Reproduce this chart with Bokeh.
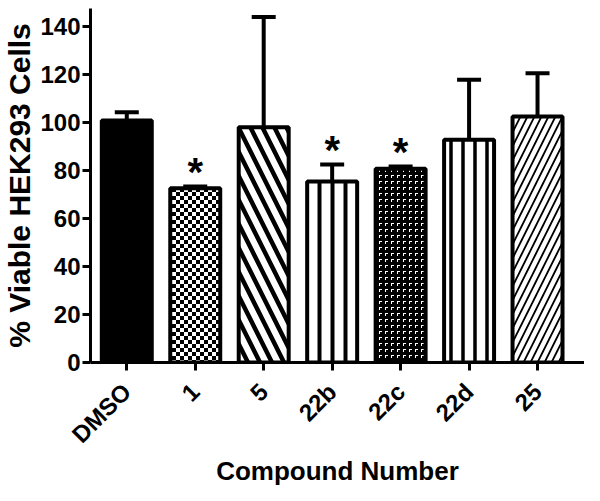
import base64
import struct
import zlib

from bokeh.core.properties import value
from bokeh.embed import file_html
from bokeh.models import (ColumnDataSource, FixedTicker, ImageURLTexture,
                          Range1d, TeeHead, Whisker)
from bokeh.plotting import figure
from bokeh.resources import INLINE

# ---- data ----
categories = ["DMSO", "1", "5", "22b", "22c", "22d", "25"]
means = [100.8, 72.6, 98.0, 75.4, 80.7, 92.8, 102.5]
errors = [3.5, 0.7, 46.0, 7.1, 1.0, 25.0, 18.0]
significant = ["", "*", "", "*", "*", "", ""]
y_ticks = [0, 20, 40, 60, 80, 100, 120, 140]

# ---- styles ----
fill_colors = ["black", "white", "white", "white", "black", "white", "white"]
hatch_patterns = ["blank", "checker", "left_diagonal_line", "vertical_line",
                  "gamma", "vertical_line", "right_diagonal_line"]
hatch_scales = [12, 12, 24, 13, 12, 12, 14]
hatch_weights = [1, 1, 4.5, 4, 1, 3.5, 1.8]


def png_data_url(rows):
    h = len(rows)
    w = len(rows[0])
    raw = b"".join(b"\x00" + bytes(v for px in row for v in px) for row in rows)

    def chunk(tag, data):
        return (struct.pack(">I", len(data)) + tag + data +
                struct.pack(">I", zlib.crc32(tag + data) & 0xFFFFFFFF))

    png = (b"\x89PNG\r\n\x1a\n" +
           chunk(b"IHDR", struct.pack(">IIBBBBB", w, h, 8, 2, 0, 0, 0)) +
           chunk(b"IDAT", zlib.compress(raw)) +
           chunk(b"IEND", b""))
    return "data:image/png;base64," + base64.b64encode(png).decode()


B = (0, 0, 0)
W = (255, 255, 255)
checker_rows = [[B if ((x // 4) + (y // 4)) % 2 == 0 else W for x in range(8)]
                for y in range(8)]
gamma_rows = []
for y in range(6):
    row = []
    for x in range(6):
        white = (y == 1 and 1 <= x <= 3) or (x == 1 and 1 <= y <= 3)
        row.append(W if white else B)
    gamma_rows.append(row)

textures = {
    "checker": ImageURLTexture(url=png_data_url(checker_rows), repetition="repeat"),
    "gamma": ImageURLTexture(url=png_data_url(gamma_rows), repetition="repeat"),
}

xs = list(range(len(categories)))
upper = [m + e for m, e in zip(means, errors)]
star_pad = 6.0
star_y = [u + star_pad for u in upper]

source = ColumnDataSource(dict(
    x=xs, cat=categories, mean=means, err=errors, upper=upper,
    fill=fill_colors, hatch=hatch_patterns, hscale=hatch_scales,
    hweight=hatch_weights, star=significant, star_y=star_y,
))

FONT = "Liberation Sans"

p = figure(width=584, height=493, output_backend="svg", toolbar_location=None,
           x_range=Range1d(-0.53, 6.686), y_range=Range1d(0, 147.5),
           min_border_left=79, min_border_right=0, min_border_top=8,
           min_border_bottom=131)
p.outline_line_color = None
p.xgrid.grid_line_color = None
p.ygrid.grid_line_color = None
p.background_fill_color = "white"
p.border_fill_color = "white"

p.vbar(x="x", top="mean", bottom=0, width=0.73, source=source,
       fill_color="fill", line_color="black", line_width=4,
       hatch_pattern="hatch", hatch_scale="hscale", hatch_weight="hweight",
       hatch_color="black", hatch_extra=textures)

whisk = Whisker(source=source, base="x", upper="upper", lower="mean",
                dimension="height", line_color="black", line_width=4,
                lower_head=None,
                upper_head=TeeHead(size=24, line_width=4, line_color="black"))
p.add_layout(whisk)

p.text(x="x", y="star_y", text="star", source=source,
       text_font=value(FONT), text_font_style="bold", text_font_size="40px",
       text_align="center", text_baseline="middle", text_color="black")

# axes
p.xaxis.ticker = FixedTicker(ticks=xs)
p.xaxis.major_label_overrides = {i: c for i, c in zip(xs, categories)}
p.xaxis.major_label_orientation = 0.785398
p.yaxis.ticker = FixedTicker(ticks=y_ticks)
p.xaxis.axis_label = "Compound Number"
p.yaxis.axis_label = "% Viable HEK293 Cells"

for ax in (p.xaxis, p.yaxis):
    ax.axis_line_width = 3
    ax.axis_line_color = "black"
    ax.major_tick_line_width = 3
    ax.major_tick_line_color = "black"
    ax.major_tick_in = 0
    ax.major_tick_out = 8
    ax.minor_tick_line_color = None
    ax.major_label_text_font = FONT
    ax.major_label_text_font_style = "bold"
    ax.major_label_text_font_size = "24px"
    ax.major_label_text_color = "black"
    ax.axis_label_text_font = FONT
    ax.axis_label_text_font_style = "bold"
    ax.axis_label_text_color = "black"
    ax.major_label_standoff = 2

p.xaxis.major_label_standoff = 17
p.yaxis.axis_label_text_font_size = "30px"
p.xaxis.axis_label_text_font_size = "26px"
p.yaxis.axis_label_standoff = 1
p.xaxis.axis_label_standoff = -5

open("out.html", "w").write(file_html(p, INLINE))
